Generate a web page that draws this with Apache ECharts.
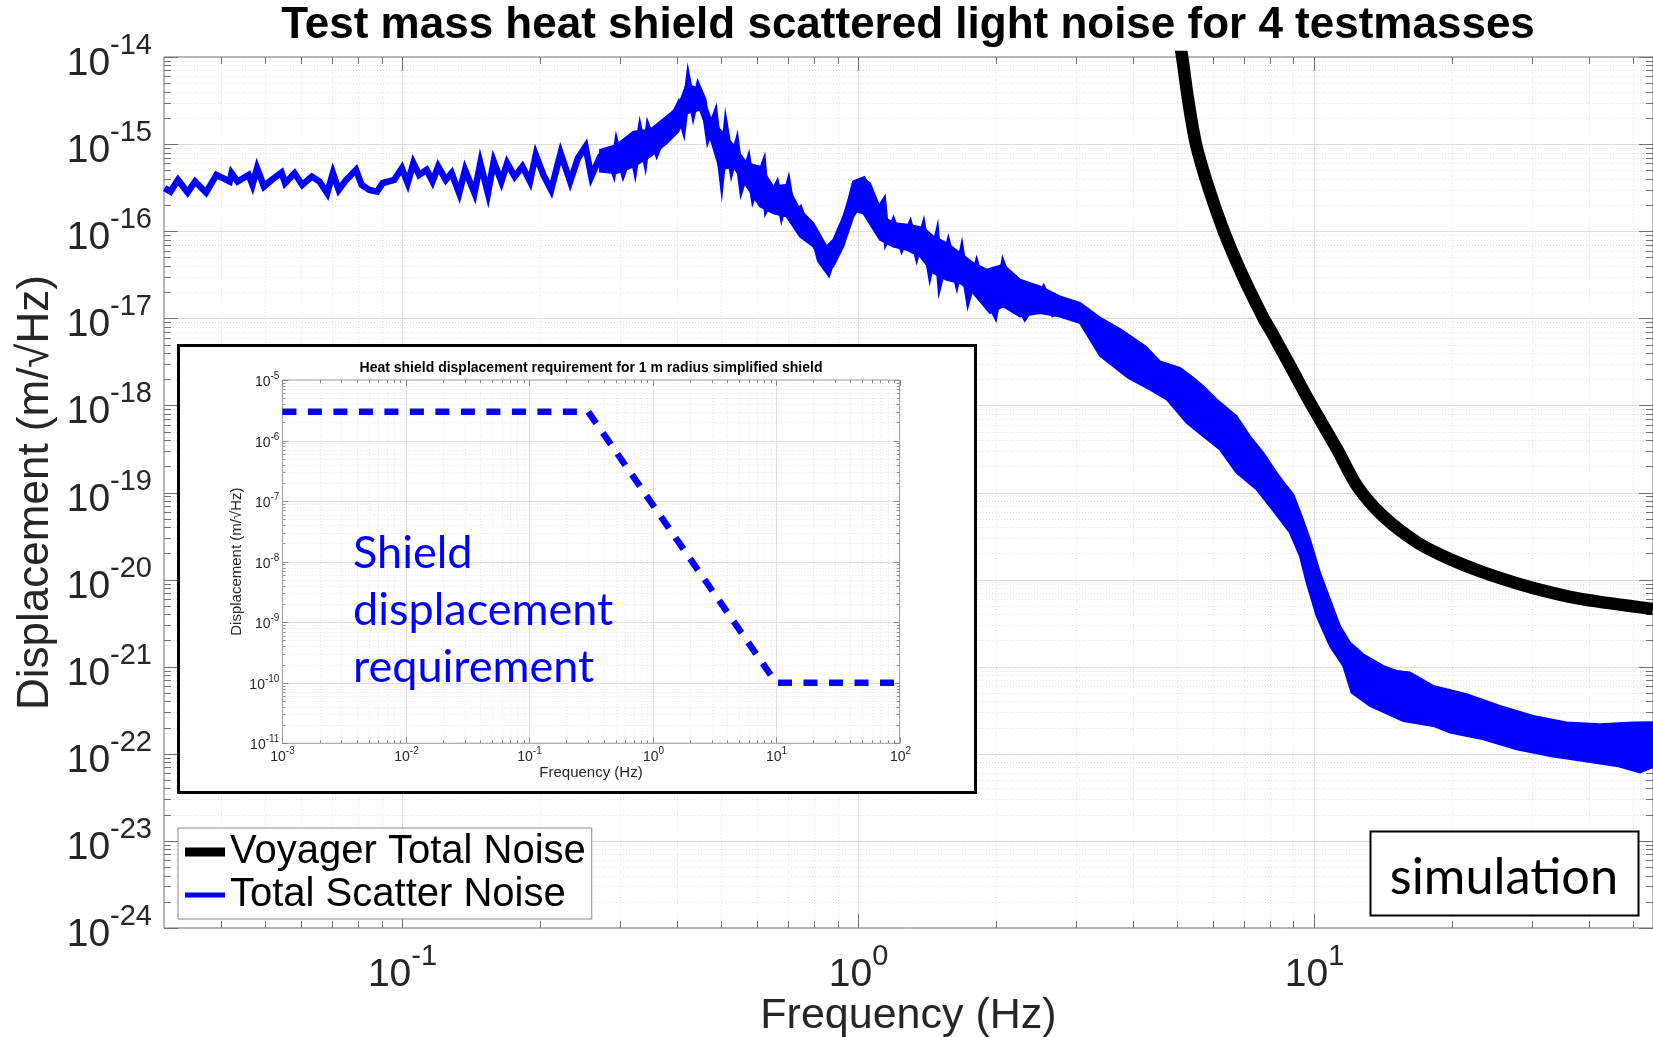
<!DOCTYPE html>
<html>
<head>
<meta charset="utf-8">
<script src="https://cdn.jsdelivr.net/npm/echarts@6/dist/echarts.min.js"></script>
<style>
html,body{margin:0;padding:0;background:#fff;}
#chart{width:1653px;height:1037px;}
</style>
</head>
<body>
<div id="chart"></div>
<script>
// ---------------- data ----------------
const voyagerFreq = [5.0, 5.13, 5.29, 5.50, 5.86, 6.33, 6.95, 7.74, 8.08, 8.86, 9.70, 11.23, 12.43, 14.17, 16.82, 19.87, 23.48, 27.87, 32.92, 38.90, 55.3];
const voyagerVal  = [2.3e-14, 1.0e-14, 3.16e-15, 1.0e-15, 3.16e-16, 1.0e-16, 3.16e-17, 1.0e-17, 6.78e-18, 2.81e-18, 1.17e-18, 3.11e-19, 1.17e-19, 5.31e-20, 2.67e-20, 1.71e-20, 1.21e-20, 9.04e-21, 7.13e-21, 5.93e-21, 4.6e-21];

const scatterFreq = [0.0301,0.0310,0.0322,0.0338,0.0351,0.0371,0.0391,0.0418,0.0422,0.0435,
  0.0460,0.0469,0.0480,0.0497,0.0517,0.0543,0.0553,0.0580,0.0603,0.0633,
  0.0658,0.0684,0.0704,0.0725,0.0753,0.0791,0.0814,0.0846,0.0880,0.0905,
  0.0959,0.0997,0.1027,0.1057,0.1088,0.1130,0.1164,0.1198,0.1245,0.1282,
  0.1332,0.1372,0.1439,0.1482,0.1540,0.1586,0.1648,0.1697,0.1763,0.1833,
  0.1905,0.1961,0.2038,0.2119,0.2223,0.2333,0.2426,0.2521,0.2596,0.2714,
  0.2805,0.2901,0.2951,0.3051,0.3184,0.3237,0.3320,0.3404,0.3462,0.3612,
  0.3734,0.3896,0.4027,0.4130,0.4236,0.4345,0.4456,0.4570,0.4687,0.4848,
  0.5013,0.5123,0.5273,0.5408,0.5546,0.5735,0.5882,0.6186,0.6294,0.6620,
  0.6789,0.7020,0.7199,0.7446,0.7702,0.7961,0.8235,0.8590,0.8810,0.9112,
  0.9504,0.9829,1.025,1.060,1.097,1.134,1.153,1.193,1.245,1.298,
  1.343,1.388,1.436,1.485,1.510,1.575,1.643,1.685,1.742,1.817,
  1.879,1.993,2.079,2.186,2.320,2.544,2.676,2.863,3.062,3.274];
const scatterVal = [3.12e-16,2.85e-16,3.88e-16,2.78e-16,3.72e-16,2.78e-16,4.43e-16,3.72e-16,4.64e-16,3.72e-16,
  4.43e-16,3.40e-16,5.29e-16,3.26e-16,3.88e-16,4.71e-16,3.56e-16,4.64e-16,3.40e-16,4.24e-16,
  3.72e-16,2.73e-16,4.64e-16,2.98e-16,3.88e-16,5.06e-16,3.40e-16,2.98e-16,2.85e-16,3.56e-16,
  3.88e-16,5.29e-16,3.56e-16,6.04e-16,4.43e-16,5.06e-16,3.72e-16,5.52e-16,3.88e-16,4.64e-16,
  2.73e-16,5.06e-16,2.73e-16,6.04e-16,2.73e-16,6.30e-16,3.72e-16,6.04e-16,4.24e-16,5.52e-16,
  3.72e-16,7.52e-16,4.43e-16,2.98e-16,7.86e-16,3.72e-16,6.89e-16,9.36e-16,4.24e-16,7.19e-16,
  8.20e-16,5.06e-16,9.36e-16,4.84e-16,8.97e-16,5.77e-16,1.33e-15,7.19e-16,1.46e-15,8.20e-16,
  1.27e-15,1.89e-15,2.69e-15,1.66e-15,4.99e-15,2.47e-15,4.38e-15,3.21e-15,1.27e-15,2.07e-15,
  4.64e-16,1.39e-15,5.52e-16,9.36e-16,3.40e-16,6.04e-16,2.61e-16,5.52e-16,1.92e-16,3.26e-16,
  1.68e-16,3.26e-16,1.47e-16,1.76e-16,1.04e-16,9.51e-17,4.70e-17,3.45e-17,5.13e-17,9.51e-17,
  1.76e-16,3.56e-16,3.88e-16,2.73e-16,1.61e-16,2.10e-16,8.33e-17,1.24e-16,6.68e-17,1.13e-16,
  5.61e-17,1.04e-16,3.61e-17,7.97e-17,2.77e-17,6.68e-17,2.77e-17,5.36e-17,1.78e-17,3.94e-17,
  2.13e-17,1.15e-17,3.94e-17,1.95e-17,1.05e-17,2.13e-17,1.15e-17,1.50e-17,1.15e-17,1.05e-17];

// upper / lower edge of the dense scatter-noise band above ~0.27 Hz
const bandUpperFreq = [0.2713,0.2951,0.3209,0.3491,0.3798,0.4027,0.4203,0.4494,0.4726,0.4971,0.5318,0.5689,0.6085,0.6509,0.6964,0.7446,0.7962,0.8518,0.8810,0.9266,
  0.9746,1.025,1.060,1.097,1.134,1.193,1.298,1.388,1.460,1.562,1.671,1.786,1.912,2.079,2.262,2.502,2.767,3.062,3.388,3.765,4.273,4.585,5.074,5.426,5.707,6.105,6.753,7.224,7.727,8.267,8.697,8.990,9.379,9.781,10.29,10.82,11.38,11.97,12.80,14.16,15.15,16.20,18.23,21.58,25.53,30.20,35.76,42.30,50.05,55.3];
const bandUpperVal  = [8.58e-16,9.79e-16,1.39e-15,1.46e-15,2.07e-15,2.69e-15,4.99e-15,4.18e-15,2.07e-15,1.46e-15,9.79e-16,6.04e-16,5.52e-16,3.26e-16,3.40e-16,1.76e-16,1.24e-16,6.68e-17,7.97e-17,1.47e-16,
  3.40e-16,4.06e-16,3.56e-16,2.29e-16,1.47e-16,1.24e-16,1.18e-16,1.09e-16,8.69e-17,7.30e-17,5.61e-17,4.31e-17,3.61e-17,4.12e-17,2.77e-17,2.32e-17,1.78e-17,1.50e-17,1.02e-17,7.40e-18,4.72e-18,3.20e-18,2.69e-18,2.07e-18,1.66e-18,1.17e-18,7.50e-19,4.42e-19,2.85e-19,1.68e-19,1.18e-19,9.49e-20,5.35e-20,2.89e-20,1.20e-20,5.93e-21,2.93e-21,1.89e-21,1.39e-21,1.02e-21,8.93e-22,8.56e-22,6.01e-22,4.83e-22,3.54e-22,2.72e-22,2.29e-22,2.18e-22,2.29e-22,2.30e-22];
const bandLowerFreq = [0.2713,0.2951,0.3209,0.3491,0.3798,0.4027,0.4203,0.4494,0.4726,0.4971,0.5318,0.5689,0.6085,0.6509,0.6964,0.7446,0.7962,0.8518,0.8810,0.9266,
  0.9746,0.9915,1.025,1.115,1.193,1.276,1.365,1.460,1.562,1.671,1.786,1.944,2.079,2.262,2.502,2.767,3.062,3.388,3.900,4.361,4.744,5.248,5.707,6.209,6.753,7.473,8.197,8.842,9.298,9.618,10.12,10.82,11.57,12.07,13.24,15.67,18.23,19.84,23.47,27.77,32.86,38.89,46.03,51.76,55.3];
const bandLowerVal  = [4.84e-16,4.64e-16,5.52e-16,7.19e-16,1.02e-15,1.39e-15,2.26e-15,2.47e-15,1.22e-15,5.06e-16,5.52e-16,3.26e-16,1.92e-16,1.61e-16,1.47e-16,8.69e-17,6.68e-17,3.61e-17,3.94e-17,6.68e-17,
  1.47e-16,1.68e-16,1.61e-16,7.97e-17,6.68e-17,6.12e-17,5.13e-17,3.31e-17,2.77e-17,2.54e-17,1.95e-17,1.15e-17,1.37e-17,1.05e-17,1.15e-17,1.05e-17,8.83e-18,3.72e-18,2.08e-18,1.52e-18,1.17e-18,6.30e-19,4.42e-19,3.11e-19,1.68e-19,1.08e-19,5.85e-20,3.45e-20,1.86e-20,9.22e-21,3.81e-21,1.73e-21,1.02e-21,5.05e-22,3.54e-22,2.38e-22,2.09e-22,1.75e-22,1.47e-22,1.13e-22,9.46e-23,8.29e-23,7.26e-23,6.10e-23,7.02e-23];

// inset: heat shield displacement requirement
const reqFreq = [0.001, 0.3, 10, 100];
const reqVal  = [3e-6, 3e-6, 1e-10, 1e-10];

// tick labels (powers of ten)
const mainXTickExp  = [-1, 0, 1];
const mainYTickExp  = [-24, -23, -22, -21, -20, -19, -18, -17, -16, -15, -14];
const insetXTickExp = [-3, -2, -1, 0, 1, 2];
const insetYTickExp = [-11, -10, -9, -8, -7, -6, -5];

// ---------------- helpers ----------------
const zip = (a, b) => a.map((v, i) => [v, b[i]]);
function decadeMinors(lo, hi) {
  const out = [];
  for (let k = Math.floor(Math.log10(lo)); k <= Math.ceil(Math.log10(hi)); k++) {
    for (let m = 2; m <= 9; m++) {
      const v = m * Math.pow(10, k);
      if (v > lo * 1.0001 && v < hi / 1.0001) out.push(v);
    }
  }
  return out;
}
const FONT = "'Liberation Sans', Arial, Helvetica, sans-serif";
const LABEL = '#262626';

function decorRenderer(cfg) {
  return function (params, api) {
    const cs = params.coordSys;
    const L = cs.x, R = cs.x + cs.width, T = cs.y, B = cs.y + cs.height;
    const px = v => api.coord([v, cfg.yRef])[0];
    const py = v => api.coord([cfg.xRef, v])[1];
    const crisp = v => Math.round(v) + 0.5;
    const grids = [], ticks = [], labels = [];
    const ln = (arr, x1, y1, x2, y2, style) => arr.push({ type: 'line', silent: true, shape: { x1, y1, x2, y2 }, style });
    cfg.xMinor.forEach(v => {
      const X = crisp(px(v));
      ln(grids, X, T, X, B, cfg.minorGrid);
      ln(ticks, X, B, X, B - cfg.minorLen, cfg.tick);
      ln(ticks, X, T, X, T + cfg.minorLen, cfg.tick);
    });
    cfg.yMinor.forEach(v => {
      const Y = crisp(py(v));
      ln(grids, L, Y, R, Y, cfg.minorGrid);
      ln(ticks, L, Y, L + cfg.minorLen, Y, cfg.tick);
      ln(ticks, R, Y, R - cfg.minorLen, Y, cfg.tick);
    });
    cfg.xMajorExp.forEach(e => {
      const X = crisp(px(Math.pow(10, e)));
      if (X > L + 1 && X < R - 1) ln(grids, X, T, X, B, cfg.majorGrid);
      ln(ticks, X, B, X, B - cfg.majorLen, cfg.tick);
      ln(ticks, X, T, X, T + cfg.majorLen, cfg.tick);
      labels.push({ type: 'text', silent: true, x: X, y: B + cfg.xLabelGap,
        style: { text: '{b|10}{s|' + e + '}', rich: cfg.rich, align: 'center', verticalAlign: 'top', fill: LABEL } });
    });
    cfg.yMajorExp.forEach(e => {
      const Y = crisp(py(Math.pow(10, e)));
      if (Y > T + 1 && Y < B - 1) ln(grids, L, Y, R, Y, cfg.majorGrid);
      ln(ticks, L, Y, L + cfg.majorLen, Y, cfg.tick);
      ln(ticks, R, Y, R - cfg.majorLen, Y, cfg.tick);
      labels.push({ type: 'text', silent: true, x: L - cfg.yLabelGap, y: Y,
        style: { text: '{b|10}{s|' + e + '}', rich: cfg.rich, align: 'right', verticalAlign: 'middle', fill: LABEL } });
    });
    return { type: 'group', children: grids.concat(ticks, labels) };
  };
}

const mainCfg = {
  xMajorExp: mainXTickExp, yMajorExp: mainYTickExp,
  xMinor: decadeMinors(0.03, 55.3), yMinor: decadeMinors(1e-24, 1e-14),
  xRef: 1, yRef: 1e-20, majorLen: 14, minorLen: 7,
  majorGrid: { stroke: '#dcdcdc', lineWidth: 1 },
  minorGrid: { stroke: '#e2e2e2', lineWidth: 1, lineDash: [1, 2] },
  tick: { stroke: '#6f6f6f', lineWidth: 1 },
  xLabelGap: 14, yLabelGap: 12,
  rich: {
    b: { fontSize: 39, fontFamily: FONT, lineHeight: 53, verticalAlign: 'bottom', fill: LABEL },
    s: { fontSize: 29, fontFamily: FONT, lineHeight: 29, verticalAlign: 'top', fill: LABEL }
  }
};
const insetCfg = {
  xMajorExp: insetXTickExp, yMajorExp: insetYTickExp,
  xMinor: decadeMinors(1e-3, 1e2), yMinor: decadeMinors(1e-11, 1e-5),
  xRef: 1, yRef: 1e-8, majorLen: 6, minorLen: 3,
  majorGrid: { stroke: '#e0e0e0', lineWidth: 1 },
  minorGrid: { stroke: '#e8e8e8', lineWidth: 1, lineDash: [1, 2] },
  tick: { stroke: '#8a8a8a', lineWidth: 1 },
  xLabelGap: 3, yLabelGap: 3,
  rich: {
    b: { fontSize: 14, fontFamily: FONT, lineHeight: 18, verticalAlign: 'bottom', fill: LABEL },
    s: { fontSize: 10, fontFamily: FONT, lineHeight: 10, verticalAlign: 'top', fill: LABEL }
  }
};

function bandRenderer(params, api) {
  const up = bandUpperFreq.map((f, i) => api.coord([f, bandUpperVal[i]]));
  const lo = bandLowerFreq.map((f, i) => api.coord([f, bandLowerVal[i]])).reverse();
  return { type: 'polygon', shape: { points: up.concat(lo) }, style: { fill: '#0000ff', stroke: '#0000ff', lineWidth: 2, lineJoin: 'miter' } };
}

const hiddenAxisParts = {
  axisLine: { show: false }, axisTick: { show: false }, axisLabel: { show: false },
  splitLine: { show: false }, minorTick: { show: false }, minorSplitLine: { show: false }
};

const option = {
  animation: false,
  backgroundColor: '#ffffff',
  title: [
    { text: 'Test mass heat shield scattered light noise for 4 testmasses', left: 908, top: 4, textAlign: 'center', padding: 0,
      textStyle: { fontFamily: FONT, fontWeight: 'bold', fontSize: 44, color: '#000' } },
    { text: 'Heat shield displacement requirement for 1 m radius simplified shield', left: 591, top: 361, textAlign: 'center', padding: 0, z: 12,
      textStyle: { fontFamily: FONT, fontWeight: 'bold', fontSize: 14, color: '#000' } },
    { text: 'Shield\ndisplacement\nrequirement', left: 353, top: 525, padding: 0, z: 12,
      textStyle: { fontFamily: "Lato, 'Open Sans', sans-serif", fontWeight: 'normal', fontSize: 45, lineHeight: 57, color: '#0000ff' } }
  ],
  legend: {
    orient: 'vertical', left: 178, top: 828, padding: [4, 6, 4, 7], itemGap: 3,
    itemWidth: 40, itemHeight: 9, selectedMode: false, z: 10,
    backgroundColor: '#ffffff', borderColor: '#8a8a8a', borderWidth: 1,
    textStyle: { fontFamily: FONT, fontSize: 40, color: '#000', lineHeight: 38 },
    data: [
      { name: 'Voyager Total Noise', icon: 'path://M0,0H40V9H0Z' },
      { name: 'Total Scatter Noise', icon: 'path://M0,0M0,9M0,2H40V7H0Z' }
    ]
  },
  graphic: [
    { type: 'rect', z: 5, silent: true, shape: { x: 178.5, y: 345.5, width: 797, height: 447 }, style: { fill: '#ffffff', stroke: '#000', lineWidth: 3 } },
    { type: 'rect', z: 10, silent: true, shape: { x: 1370.5, y: 831.5, width: 268, height: 84 }, style: { fill: '#ffffff', stroke: '#000', lineWidth: 2 } },
    { type: 'text', z: 11, silent: true, x: 1504, y: 878,
      style: { text: 'simulation', fontFamily: "Lato, 'Open Sans', sans-serif", fontSize: 50.5, fill: '#000', align: 'center', verticalAlign: 'middle' } }
  ],
  grid: [
    { left: 164, top: 57, width: 1489, height: 871, show: true, borderColor: '#6f6f6f', borderWidth: 1,
      backgroundColor: 'transparent', outerBoundsMode: 'none', containLabel: false, z: 0 },
    { left: 282.4, top: 380, width: 617.2, height: 363.3, show: true, borderColor: '#9a9a9a', borderWidth: 1,
      backgroundColor: '#ffffff', outerBoundsMode: 'none', containLabel: false, z: 6 }
  ],
  xAxis: [
    Object.assign({ type: 'log', logBase: 10, gridIndex: 0, min: 0.03, max: 55.3,
      name: 'Frequency (Hz)', nameLocation: 'middle', nameGap: 67,
      nameTextStyle: { fontFamily: FONT, fontSize: 43, color: LABEL } }, hiddenAxisParts),
    Object.assign({ type: 'log', logBase: 10, gridIndex: 1, min: 0.001, max: 100, z: 8,
      name: 'Frequency (Hz)', nameLocation: 'middle', nameGap: 22,
      nameTextStyle: { fontFamily: FONT, fontSize: 15, color: LABEL } }, hiddenAxisParts)
  ],
  yAxis: [
    Object.assign({ type: 'log', logBase: 10, gridIndex: 0, min: 1e-24, max: 1e-14,
      name: 'Displacement (m/\u221AHz)', nameLocation: 'middle', nameGap: 106,
      nameTextStyle: { fontFamily: FONT, fontSize: 44, color: LABEL } }, hiddenAxisParts),
    Object.assign({ type: 'log', logBase: 10, gridIndex: 1, min: 1e-11, max: 1e-5, z: 8,
      name: 'Displacement (m/\u221AHz)', nameLocation: 'middle', nameGap: 38,
      nameTextStyle: { fontFamily: FONT, fontSize: 15, color: LABEL } }, hiddenAxisParts)
  ],
  series: [
    { type: 'custom', name: 'main axes decoration', xAxisIndex: 0, yAxisIndex: 0, z: 1, silent: true, clip: false,
      renderItem: decorRenderer(mainCfg), data: [[1, 1e-20]] },
    { type: 'custom', name: 'Total Scatter Noise band', xAxisIndex: 0, yAxisIndex: 0, z: 3, silent: true, clip: true,
      renderItem: bandRenderer, data: [[3, 1e-20]] },
    { type: 'line', name: 'Total Scatter Noise', xAxisIndex: 0, yAxisIndex: 0, z: 3, clip: true,
      data: zip(scatterFreq, scatterVal), showSymbol: false, symbol: 'none',
      lineStyle: { width: 6.5, color: '#0000ff', join: 'miter' }, itemStyle: { color: '#0000ff' } },
    { type: 'line', name: 'Voyager Total Noise', xAxisIndex: 0, yAxisIndex: 0, z: 4, clip: true,
      data: zip(voyagerFreq, voyagerVal), showSymbol: false, symbol: 'none', smooth: 0.3,
      lineStyle: { width: 12.5, color: '#000000' }, itemStyle: { color: '#000000' } },
    { type: 'custom', name: 'inset axes decoration', xAxisIndex: 1, yAxisIndex: 1, z: 7, silent: true, clip: false,
      renderItem: decorRenderer(insetCfg), data: [[1, 1e-8]] },
    { type: 'line', name: 'Shield displacement requirement', xAxisIndex: 1, yAxisIndex: 1, z: 8, clip: true,
      data: zip(reqFreq, reqVal), showSymbol: false, symbol: 'none',
      lineStyle: { width: 6.5, color: '#0000ff', type: [14, 11.5], cap: 'butt' }, itemStyle: { color: '#0000ff' } }
  ]
};

const chart = echarts.init(document.getElementById('chart'), null, { renderer: 'canvas', width: 1653, height: 1037 });
chart.setOption(option);
</script>
</body>
</html>
